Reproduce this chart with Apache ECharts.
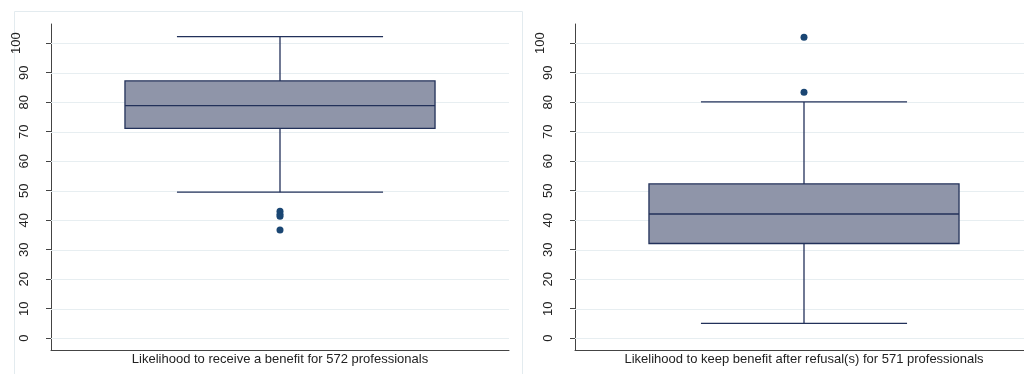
<!DOCTYPE html>
<html>
<head>
<meta charset="utf-8">
<script src="https://cdn.jsdelivr.net/npm/echarts@6/dist/echarts.min.js"></script>
<style>
  html, body { margin: 0; padding: 0; background: #ffffff; overflow: hidden; }
  /* the right-hand panel runs slightly past the visible page edge */
  #chart { width: 1040px; height: 374px; }
</style>
</head>
<body>
<div id="chart"></div>
<script>
// Category names under each panel
const receiveCategory = ['Likelihood to receive a benefit for 572 professionals'];
const keepCategory = ['Likelihood to keep benefit after refusal(s) for 571 professionals'];

// Box summaries: [lower whisker, Q1, median, Q3, upper whisker]
const receiveStats = [49.5, 71.1, 78.8, 87.2, 102.2];
const keepStats = [5.0, 32.1, 42.1, 52.3, 80.1];

// Points outside the whiskers
const receiveOutliers = [43.0, 42.0, 41.3, 36.7];
const keepOutliers = [83.4, 102.0];

// Y-axis ticks shared by both panels
const yTicks = [0, 10, 20, 30, 40, 50, 60, 70, 80, 90, 100];

const FONT = 'Liberation Sans';
const NAVY = '#22315a';
const FILL = '#8f95a9';
const DOT = '#1a4673';
const GRIDLINE = '#e7eef1';
const AXIS = '#444444';

// Stata-style box: caps narrower than the box itself
function renderBox(params, api) {
  const x = api.value(0);
  const band = api.size([1, 0])[0];
  const boxW = band * 0.677;
  const capW = band * 0.45;
  const pLo = api.coord([x, api.value(1)]);
  const pQ1 = api.coord([x, api.value(2)]);
  const pMed = api.coord([x, api.value(3)]);
  const pQ3 = api.coord([x, api.value(4)]);
  const pHi = api.coord([x, api.value(5)]);
  const cx = pMed[0];
  const lineStyle = { stroke: NAVY, lineWidth: 1.3, fill: null };
  return {
    type: 'group',
    children: [
      { type: 'line', shape: { x1: cx, y1: pQ3[1], x2: cx, y2: pHi[1] }, style: lineStyle },
      { type: 'line', shape: { x1: cx, y1: pQ1[1], x2: cx, y2: pLo[1] }, style: lineStyle },
      { type: 'line', shape: { x1: cx - capW / 2, y1: pHi[1], x2: cx + capW / 2, y2: pHi[1] }, style: lineStyle },
      { type: 'line', shape: { x1: cx - capW / 2, y1: pLo[1], x2: cx + capW / 2, y2: pLo[1] }, style: lineStyle },
      { type: 'rect', shape: { x: cx - boxW / 2, y: pQ3[1], width: boxW, height: pQ1[1] - pQ3[1] },
        style: { fill: FILL, stroke: NAVY, lineWidth: 1.3 } },
      { type: 'line', shape: { x1: cx - boxW / 2, y1: pMed[1], x2: cx + boxW / 2, y2: pMed[1] }, style: lineStyle }
    ]
  };
}

// Horizontal reference line across the plot area at one tick value
function renderGridLine(params, api) {
  const rect = params.coordSys;
  const p = api.coord([0, api.value(0)]);
  const y = Math.round(p[1]) + 0.5;
  return {
    type: 'line',
    silent: true,
    shape: { x1: rect.x, y1: y, x2: rect.x + rect.width, y2: y },
    style: { stroke: GRIDLINE, lineWidth: 1.2 }
  };
}

function yAxisFor(gridIndex) {
  return {
    type: 'value',
    gridIndex: gridIndex,
    min: -4,
    max: 106.5,
    axisLine: { show: true, lineStyle: { color: AXIS, width: 1 } },
    axisTick: { show: true, length: 5, customValues: yTicks, lineStyle: { color: AXIS } },
    axisLabel: {
      customValues: yTicks,
      rotate: 90,
      margin: 20,
      fontFamily: FONT,
      fontSize: 13,
      color: '#222222',
      // three-digit label sits a little further out from the axis
      formatter: v => (String(v).length > 2 ? '{wide|' + v + '}' : String(v)),
      rich: { wide: { fontFamily: FONT, fontSize: 13, color: '#222222', padding: [0, 0, 8, 0] } }
    },
    splitLine: { show: false }
  };
}

function xAxisFor(gridIndex, cats) {
  return {
    type: 'category',
    gridIndex: gridIndex,
    data: cats,
    axisLine: { show: true, onZero: false, lineStyle: { color: AXIS, width: 1 } },
    axisTick: { show: false },
    axisLabel: { margin: 3, fontFamily: FONT, fontSize: 13, color: '#222222', interval: 0 }
  };
}

function gridLineSeries(axisIndex) {
  return {
    type: 'custom',
    xAxisIndex: axisIndex,
    yAxisIndex: axisIndex,
    silent: true,
    z: 1,
    renderItem: renderGridLine,
    encode: { y: 0 },
    data: yTicks.map(v => [v])
  };
}

function boxSeries(axisIndex, stats) {
  return {
    type: 'custom',
    xAxisIndex: axisIndex,
    yAxisIndex: axisIndex,
    z: 3,
    renderItem: renderBox,
    encode: { x: 0, y: [1, 2, 3, 4, 5] },
    data: [[0].concat(stats)]
  };
}

function outlierSeries(axisIndex, values) {
  return {
    type: 'scatter',
    xAxisIndex: axisIndex,
    yAxisIndex: axisIndex,
    z: 4,
    symbol: 'circle',
    symbolSize: 7,
    itemStyle: { color: DOT, opacity: 1 },
    data: values.map(v => [0, v])
  };
}

const chart = echarts.init(document.getElementById('chart'), null, { renderer: 'canvas' });
chart.setOption({
  animation: false,
  backgroundColor: '#ffffff',
  textStyle: { fontFamily: FONT },
  graphic: [
    {
      type: 'rect',
      silent: true,
      z: -1,
      shape: { x: 14.5, y: 11.5, width: 508, height: 400 },
      style: { fill: null, stroke: '#e3ebef', lineWidth: 1 }
    }
  ],
  grid: [
    { left: 51, top: 24, right: 531, bottom: 24 },
    { left: 575, top: 24, right: 7, bottom: 24 }
  ],
  xAxis: [xAxisFor(0, receiveCategory), xAxisFor(1, keepCategory)],
  yAxis: [yAxisFor(0), yAxisFor(1)],
  series: [
    gridLineSeries(0),
    gridLineSeries(1),
    boxSeries(0, receiveStats),
    boxSeries(1, keepStats),
    outlierSeries(0, receiveOutliers),
    outlierSeries(1, keepOutliers)
  ]
});
</script>
</body>
</html>
